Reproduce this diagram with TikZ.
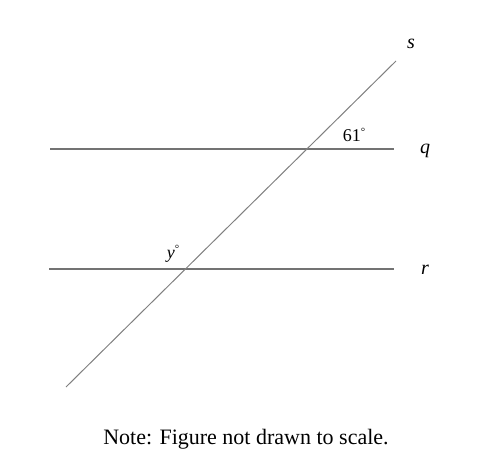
\documentclass[tikz,border=0pt]{standalone}
\usepackage{fontspec}
\setmainfont{Liberation Serif}
\newcommand{\degsm}{\raisebox{0.35em}{\fontsize{11}{12}\selectfont °}}
\begin{document}
\begin{tikzpicture}[x=1pt,y=-1pt,
  hline/.style={draw=black!55,line width=1.4pt},
  dline/.style={draw=black!50,line width=1pt},
  lbl/.style={inner sep=0pt,font=\fontsize{20}{23}\selectfont\itshape},
  ang/.style={inner sep=0pt,font=\fontsize{18}{21}\selectfont}]
\useasboundingbox (0,0) rectangle (491,458);
\coordinate (q1) at (50,149);
\coordinate (q2) at (394,149);
\coordinate (r1) at (49,269);
\coordinate (r2) at (394,269);
\coordinate (s1) at (66,387);
\coordinate (s2) at (396,61);
\draw[hline] (q1) -- (q2);
\draw[hline] (r1) -- (r2);
\draw[dline] (s1) -- (s2);
\node[lbl] (ls) at (411,44) {s};
\node[lbl] (lq) at (425,151) {q};
\node[lbl] (lr) at (425,270) {r};
\node[ang] (a61) at (354,135) {61\degsm};
\node[ang] (ay) at (173,254) {\textit{y}\degsm};
\node[inner sep=0pt,font=\fontsize{22}{26}\selectfont] (note) at (246,439) {Note: Figure not drawn to scale.};
\end{tikzpicture}
\end{document}
